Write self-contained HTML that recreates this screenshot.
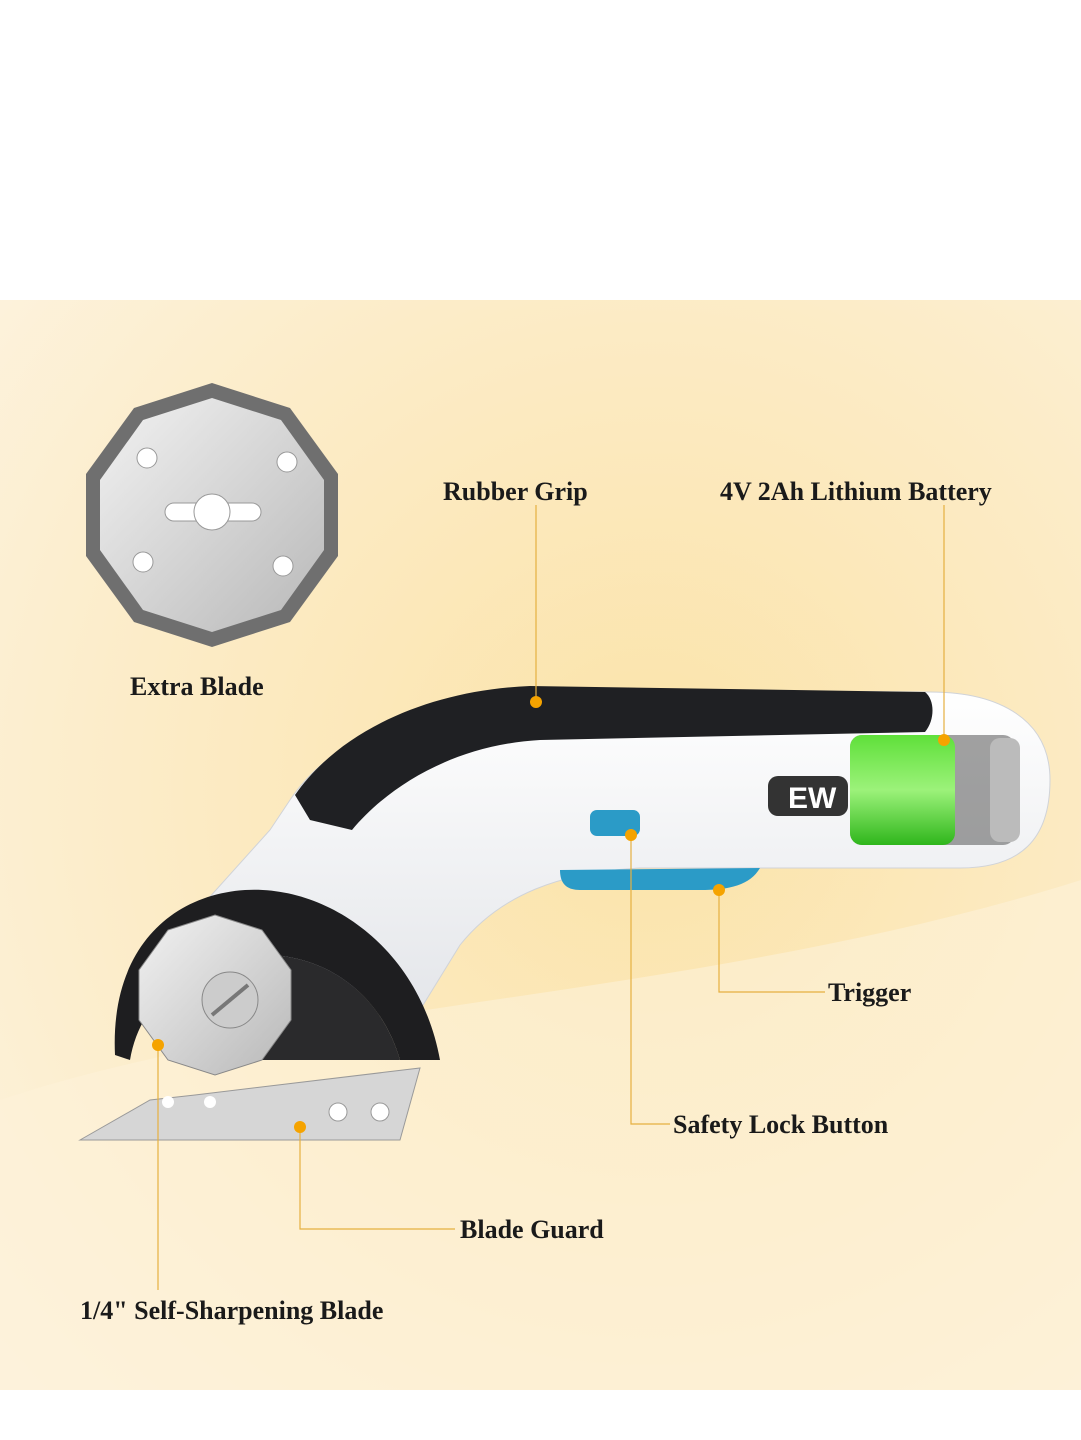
<!DOCTYPE html>
<html><head><style>
html,body{margin:0;padding:0;background:#fff;}
svg{display:block}
text{font-family:"Liberation Serif",serif;font-weight:bold;font-size:26px;fill:#1a1a1a}
</style></head><body>
<svg width="1081" height="1440" viewBox="0 0 1081 1440" xmlns="http://www.w3.org/2000/svg">
<defs>
<radialGradient id="bg" cx="0.6" cy="0.45" r="0.8">
<stop offset="0" stop-color="#fbe3a8"/><stop offset="0.6" stop-color="#fcecc8"/><stop offset="1" stop-color="#fdf3df"/>
</radialGradient>
<linearGradient id="grn" x1="0" y1="0" x2="0" y2="1">
<stop offset="0" stop-color="#5fe03a"/><stop offset="0.5" stop-color="#9cf27a"/><stop offset="1" stop-color="#2fb61c"/>
</linearGradient>
<linearGradient id="steel" x1="0" y1="0" x2="1" y2="1">
<stop offset="0" stop-color="#f2f2f2"/><stop offset="1" stop-color="#b8b8b8"/>
</linearGradient>
<linearGradient id="body" x1="0" y1="0" x2="0" y2="1">
<stop offset="0" stop-color="#ffffff"/><stop offset="1" stop-color="#e4e6ea"/>
</linearGradient>
</defs>
<rect x="0" y="300" width="1081" height="1090" fill="url(#bg)"/>
<path d="M0 1100 C300 1000 700 1000 1081 880 L1081 1390 L0 1390Z" fill="#fdf1d9" opacity="0.6"/>

<!-- extra blade -->
<polygon points="212,383 290,408 338,474 338,556 290,622 212,647 134,622 86,556 86,474 134,408" fill="#6f6f6f"/>
<polygon points="212,398 281,420 324,480 324,550 281,610 212,632 143,610 100,550 100,480 143,420" fill="url(#steel)"/>
<circle cx="147" cy="458" r="10" fill="#fff" stroke="#999"/>
<circle cx="287" cy="462" r="10" fill="#fff" stroke="#999"/>
<circle cx="143" cy="562" r="10" fill="#fff" stroke="#999"/>
<circle cx="283" cy="566" r="10" fill="#fff" stroke="#999"/>
<rect x="165" y="503" width="96" height="18" rx="9" fill="#fff" stroke="#999"/>
<circle cx="212" cy="512" r="18" fill="#fff" stroke="#999"/>

<!-- tool body -->
<path d="M290 800 C330 740 420 700 520 690 L930 692 C1000 692 1050 720 1050 780 C1050 840 1020 868 960 868 L640 868 C560 872 500 895 460 945 L420 1010 L180 930 L270 830Z" fill="url(#body)" stroke="#d0d3d8"/>
<path d="M295 795 C340 730 430 690 530 686 L925 692 C935 700 935 720 925 732 L540 740 C450 745 385 790 352 830 L310 820Z" fill="#1f2023"/>
<!-- battery -->
<rect x="850" y="735" width="165" height="110" rx="12" fill="#555" opacity="0.55"/>
<rect x="850" y="735" width="105" height="110" rx="12" fill="url(#grn)"/>
<rect x="990" y="738" width="30" height="104" rx="10" fill="#bbb"/>
<rect x="768" y="776" width="80" height="40" rx="10" fill="#333"/>
<text x="788" y="808" style="fill:#fff;font-family:'Liberation Sans',sans-serif;font-size:30px">EW</text>
<!-- buttons -->
<rect x="590" y="810" width="50" height="26" rx="7" fill="#2b9bc7"/>
<path d="M560 870 L760 868 C750 885 730 890 700 890 L580 890 C565 890 560 882 560 870Z" fill="#2b9bc7"/>

<!-- blade guard -->
<path d="M115 1055 C110 950 170 895 245 890 C330 885 420 950 440 1060 L400 1060 C380 990 320 950 250 955 C190 960 140 1000 130 1060Z" fill="#1e1e20"/>
<path d="M250 955 C320 950 380 990 400 1060 L260 1060Z" fill="#2a2a2c"/>
<polygon points="215,915 262,930 291,970 291,1020 262,1060 215,1075 168,1060 139,1020 139,970 168,930" fill="url(#steel)" stroke="#888"/>
<circle cx="230" cy="1000" r="28" fill="#ccc" stroke="#888"/>
<line x1="212" y1="1015" x2="248" y2="985" stroke="#777" stroke-width="4"/>
<polygon points="80,1140 150,1100 195,1095 420,1068 400,1140" fill="#d6d6d6" stroke="#999"/>
<circle cx="168" cy="1102" r="6" fill="#fff"/><circle cx="210" cy="1102" r="6" fill="#fff"/>
<circle cx="338" cy="1112" r="9" fill="#fff" stroke="#999"/><circle cx="380" cy="1112" r="9" fill="#fff" stroke="#999"/>

<!-- leader lines -->
<g stroke="#e6b040" stroke-width="1.2" fill="none">
<line x1="536" y1="505" x2="536" y2="702"/>
<line x1="944" y1="505" x2="944" y2="740"/>
<polyline points="719,890 719,992 825,992"/>
<polyline points="631,835 631,1124 670,1124"/>
<polyline points="300,1127 300,1229 455,1229"/>
<line x1="158" y1="1045" x2="158" y2="1290"/>
</g>
<g fill="#f5a300">
<circle cx="536" cy="702" r="6"/><circle cx="944" cy="740" r="6"/><circle cx="719" cy="890" r="6"/>
<circle cx="631" cy="835" r="6"/><circle cx="300" cy="1127" r="6"/><circle cx="158" cy="1045" r="6"/>
</g>

<text x="443" y="500">Rubber Grip</text>
<text x="720" y="500">4V 2Ah Lithium Battery</text>
<text x="130" y="695">Extra Blade</text>
<text x="828" y="1001">Trigger</text>
<text x="673" y="1133">Safety Lock Button</text>
<text x="460" y="1238">Blade Guard</text>
<text x="80" y="1319">1/4" Self-Sharpening Blade</text>
</svg>
</body></html>
